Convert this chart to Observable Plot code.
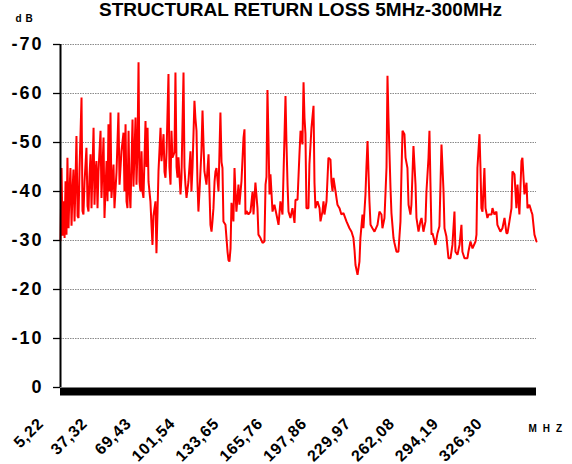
<!DOCTYPE html>
<html><head><meta charset="utf-8">
<script src="https://cdn.jsdelivr.net/npm/d3@7"></script>
<script src="https://cdn.jsdelivr.net/npm/@observablehq/plot@0.6"></script>
<style>html,body{margin:0;padding:0;background:#fff}svg{display:block}</style>
</head><body><div id="chart"></div>
<script>
const titleText = "STRUCTURAL RETURN LOSS 5MHz-300MHz";
const yUnit = "dB";
const xUnit = "MHZ";
const yTicks = [0, -10, -20, -30, -40, -50, -60, -70];
const gridTicks = [-10, -20, -30, -40, -50, -60, -70];
const tickMHz = [5.22, 37.32, 69.43, 101.54, 133.65, 165.76, 197.86, 229.97, 262.08, 294.19, 326.30];
const tickLabels = ["5,22", "37,32", "69,43", "101,54", "133,65", "165,76", "197,86", "229,97", "262,08", "294,19", "326,30"];

const freqMHz = [
5.22,6.0,6.7,7.4,8.2,8.9,9.6,10.3,11.1,11.8,
12.5,13.3,14.0,14.7,15.5,16.2,16.9,17.7,18.4,19.1,
20.6,21.3,22.0,22.8,24.2,25.0,25.7,26.4,27.2,27.9,
29.4,30.1,30.8,31.5,32.3,33.0,34.5,35.2,36.7,37.4,
38.9,39.6,40.3,41.1,41.8,42.5,44.0,44.7,46.2,47.6,
48.4,49.8,51.3,52.0,52.8,53.5,54.2,55.0,55.7,56.4,
57.9,58.6,60.1,60.8,61.5,62.3,63.0,63.7,64.5,65.2,
65.9,67.4,68.1,68.9,69.6,71.0,71.8,72.5,73.2,74.7,
75.4,76.2,76.9,78.4,79.1,80.6,81.3,82.0,82.8,84.2,
84.9,85.7,86.4,87.1,88.6,89.3,90.1,90.8,91.5,93.0,
93.7,95.2,95.9,96.6,97.4,98.8,100.3,101.0,101.8,103.2,
103.9,104.7,105.4,106.1,106.9,108.3,109.1,109.8,110.5,112.0,
113.5,114.2,114.9,115.7,116.4,117.1,117.9,118.6,
119.3,120.8,122.2,123.0,123.7,124.4,125.9,127.4,128.1,128.8,
129.6,130.3,131.0,131.7,132.5,133.2,133.9,135.4,136.1,137.6,
139.1,139.8,140.5,141.3,142.7,144.2,145.7,146.4,147.8,149.3,
150.0,151.5,153.0,154.4,155.2,155.9,156.6,157.4,158.1,158.8,
159.5,160.3,161.7,163.2,164.7,166.1,167.6,169.1,169.8,170.5,
171.3,172.0,173.4,174.9,176.4,177.1,178.6,180.0,180.8,182.2,
183.0,183.7,184.4,185.1,186.6,187.3,188.8,190.3,191.0,191.7,
193.2,194.7,195.4,196.9,197.6,198.3,199.8,201.2,202.7,203.4,
204.2,204.9,206.4,207.8,209.3,210.7,212.2,214.4,216.6,218.1,
219.5,220.3,221.0,222.5,223.9,224.6,226.1,226.8,228.3,229.0,
229.8,230.5,231.2,232.0,233.4,234.9,
237.1,238.5,240.0,240.7,242.2,242.9,243.7,244.4,245.1,246.6,
247.3,248.8,249.5,251.0,252.4,253.9,254.6,255.4,256.8,257.6,
259.0,259.8,261.2,261.9,263.4,264.9,265.6,267.1,268.5,269.3,
270.7,272.2,272.9,274.4,275.1,275.8,276.6,277.3,279.5,281.0,
282.4,283.9,285.4,286.1,287.5,289.0,290.5,291.9,293.4,294.1,
295.6,297.1,298.5,299.2,300.7,302.9,303.6,305.1,306.6,308.8,
309.5,310.2,311.7,312.4,313.1,313.9,315.3,316.1,317.5,318.3,
320.5,321.2,322.6,324.1,324.8,327.0,328.5,330.0,331.4,332.2,
333.6,335.1,335.8,337.3,338.7,339.5,340.9,342.4,343.1,344.6,
346.1,346.8,348.2,349.7,350.4,351.9,353.4
];

const lossDb = [
-30.0,-44.8,-31,-38,-30.5,-42.1,-31.2,-46.9,-32.5,-40,
-44.8,-33,-40,-44.5,-33.9,-42,-51.3,-35,-34.6,-44,
-59.2,-36,-35.3,-42,-48.9,-37,-35.9,-43,-47.6,-36.6,
-53.0,-37.3,-44,-46.2,-36.6,-44,-52.4,-38.7,-51.0,-34.6,
-46.2,-38,-53.7,-40,-56.1,-38.7,-45.5,-36.6,-44,-56.1,
-41.4,-48.2,-52.0,-40,-53.7,-38,-36.6,-52.4,-40,-36.6,
-54.7,-41,-55.1,-41.4,-48,-66.4,-42,-40.0,-48.2,-40,
-38.7,-54.4,-45,-53.0,-42,-38.0,-33,-29.1,-35,-38.0,
-27.4,-36,-44.1,-53.0,-46.2,-51.7,-44,-42.8,-48,-64.0,
-45,-41.4,-52.4,-46.9,-48,-64.3,-45,-42.8,-47,-39.4,
-42.8,-64.3,-45,-41.4,-38.7,-42,-48.2,-40,-45,-58.5,
-55,-52.4,-42,-35.9,-40,-48.2,-56.5,-50,-44.1,-41.4,
-47.6,-40,-33.2,-31.8,-34,-36.6,-42,-44.1,
-44.8,-40,-56.1,-46,-44.8,-33.9,-33.2,-27.7,-26,-25.7,
-28.4,-37.7,-36,-33.9,-44.8,-40,-35.9,-41.4,-37.3,-42.1,
-51.0,-52.7,-35.3,-36,-35.3,-35.9,-40.0,-35.3,-41.8,-36.6,
-31.2,-30.5,-29.5,-29.8,-41.4,-43,-60.7,-50,-39.4,-43.5,
-40,-35.9,-37.3,-35.3,-33.2,-38.0,-35.3,-51.7,-59.5,-50,
-41.4,-35.9,-34.6,-36.6,-33.6,-38.3,-38.3,-47.6,-52.4,-49.6,
-62.3,-55,-51.7,-36.6,-36.6,-45.5,-53.0,-57.5,-41.8,-36.6,
-38.0,-36.6,-33.9,-36,-38.0,-35.3,-38.0,-46.9,-46.5,-42,
-40.0,-42.8,-40.0,-37.3,-36.6,-35.3,-35.6,-33.9,-32.5,-31.8,
-30.5,-28,-25.0,-23.0,-25.7,-30.5,-35.3,-32.5,-39.4,-45,
-50.3,-44.1,-38,-33.2,-32.5,-31.8,
-33.2,-35.9,-35.3,-32.5,-34.6,-39.4,-45,-63.6,-55.1,-40.7,
-35.6,-30.5,-29.5,-27.7,-27.7,-33.9,-43.5,-52.4,-51.7,-46.9,
-44.8,-37.3,-35.3,-37.3,-49.3,-41.4,-34.6,-31.8,-33.9,-34.6,
-31.8,-33.9,-40.0,-46.9,-52.4,-42,-31.2,-31.5,-29.1,-31.5,
-32.9,-49.6,-40.0,-32.5,-30.8,-26.4,-26.4,-29.1,-35.9,-27.7,
-27.1,-29.1,-33.2,-27.7,-26.4,-26.4,-27.7,-29.8,-28.4,-29.8,
-31.2,-44.8,-51.7,-45,-36.6,-35.9,-44.8,-36.6,-34.6,-35.3,
-35.3,-36.6,-35.3,-35.9,-33.2,-31.8,-32.5,-34.6,-31.5,-31.5,
-33.9,-36.6,-44.1,-43.5,-36.6,-41.4,-35.3,-46.2,-46.9,-39.4,
-41.8,-36.6,-37.3,-35.9,-35.3,-31.2,-29.8
];

const xTickData = tickMHz.map((v, i) => ({v, label: tickLabels[i]}));

const chart = Plot.plot({
  width: 572,
  height: 464,
  marginLeft: 60,
  marginRight: 36,
  marginTop: 44,
  marginBottom: 77,
  style: {fontFamily: "'Liberation Sans', Arial, sans-serif", background: "#fff", color: "#000"},
  x: {domain: d3.extent(freqMHz), axis: null},
  y: {domain: [0, -70], axis: null},
  marks: [
    Plot.ruleY(gridTicks, {stroke: "#8a8a8a", strokeWidth: 1, strokeDasharray: "1.5,1"}),
    Plot.line(lossDb, {x: freqMHz, y: lossDb, stroke: "#ff0000", strokeWidth: 2, strokeLinejoin: "miter"}),
    Plot.ruleY([0], {stroke: "#000", strokeWidth: 8, dy: 4}),
    Plot.ruleX([d3.min(freqMHz)], {y1: 0, y2: -70, stroke: "#000", strokeWidth: 2}),
    Plot.axisY(yTicks, {tickSize: 7, tickPadding: 10, fontSize: 18, fontWeight: "bold", tickFormat: d => String(d), strokeWidth: 1.3}),
    Plot.text(xTickData, {x: "v", text: "label", frameAnchor: "bottom", rotate: -45, textAnchor: "end", lineAnchor: "bottom", dx: -16, dy: 37, fontSize: 16, fontWeight: "bold"}),
    Plot.text([titleText], {frameAnchor: "top", dx: 2, dy: -29, lineAnchor: "bottom", fontSize: 19, fontWeight: "bold"}),
    Plot.text([yUnit], {frameAnchor: "top-left", dx: -45, dy: -23, textAnchor: "start", lineAnchor: "bottom", fontSize: 10, fontWeight: "bold"}),
    Plot.text([xUnit], {frameAnchor: "bottom-right", dx: -8, dy: 44, textAnchor: "start", lineAnchor: "bottom", fontSize: 10, fontWeight: "bold"})
  ]
});

const sel = d3.select(chart);
const spacing = (list, ls) => sel.selectAll("text")
  .filter(function () { return list.includes(this.textContent); })
  .style("letter-spacing", ls);
spacing(yTicks.map(String), "2px");
spacing(tickLabels, "0.8px");
spacing([yUnit], "4px");
spacing([xUnit], "6px");
document.getElementById("chart").appendChild(chart);
</script>
</body></html>
